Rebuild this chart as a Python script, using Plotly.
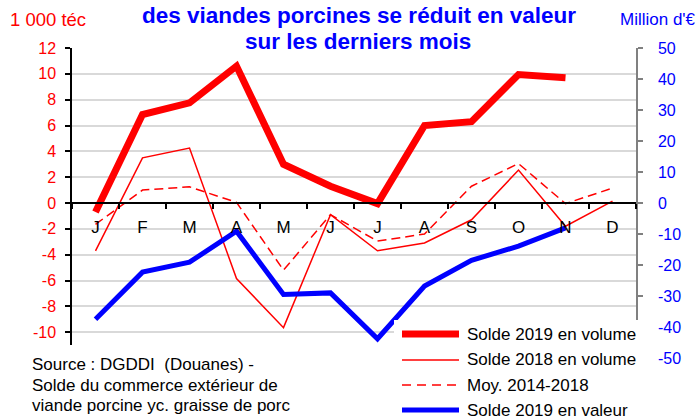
import plotly.graph_objects as go

# ---- data ----
months = ["Jan", "Fev", "Mar", "Avr", "Mai", "Juin", "Juil", "Aou", "Sep", "Oct", "Nov", "Dec"]
month_labels = ["J", "F", "M", "A", "M", "J", "J", "A", "S", "O", "N", "D"]

vol_2019 = [-0.7, 6.85, 7.75, 10.6, 3.0, 1.3, -0.05, 6.0, 6.3, 9.95, 9.7, None]
vol_2018 = [-3.7, 3.5, 4.25, -5.85, -9.65, -0.9, -3.7, -3.1, -1.3, 2.55, -1.8, 0.15]
moy_2014_2018 = [-1.65, 1.0, 1.25, 0.05, -5.2, -0.9, -2.95, -2.4, 1.3, 3.05, -0.05, 1.15]
val_2019 = [-37.5, -22.3, -19.1, -9.1, -29.5, -29.0, -43.8, -26.8, -18.5, -13.9, -8.0, None]

left_ticks = [-12, -10, -8, -6, -4, -2, 0, 2, 4, 6, 8, 10, 12]
left_tick_text = ["", "-10", "-8", "-6", "-4", "-2", "0", "2", "4", "6", "8", "10", "12"]
right_ticks = [-50, -40, -30, -20, -10, 0, 10, 20, 30, 40, 50]

series_names = ["Solde 2019 en volume", "Solde 2018 en volume",
                "Moy. 2014-2018", "Solde 2019 en valeur"]

# ---- geometry helpers (pixels -> paper) ----
W, H = 700, 419
PL, PR, PT, PB = 72, 636, 48, 358


def px(x):
    return (x - PL) / (PR - PL)


def py(y):
    return (PB - y) / (PB - PT)


RED = "#FF0000"
BLUE = "#0000FF"
FONT = "Liberation Sans, Arial, sans-serif"

fig = go.Figure()
fig.add_trace(go.Scatter(x=months, y=vol_2019, mode="lines", name=series_names[0],
                         line=dict(color=RED, width=7), showlegend=False))
fig.add_trace(go.Scatter(x=months, y=vol_2018, mode="lines", name=series_names[1],
                         line=dict(color=RED, width=1.5), showlegend=False))
fig.add_trace(go.Scatter(x=months, y=moy_2014_2018, mode="lines", name=series_names[2],
                         line=dict(color=RED, width=1.5, dash="9px,5px"), showlegend=False))
fig.add_trace(go.Scatter(x=months, y=val_2019, mode="lines", name=series_names[3],
                         line=dict(color=BLUE, width=5), yaxis="y2", showlegend=False))

shapes = [
    # white box behind the source text
    dict(type="rect", xref="paper", yref="paper", x0=px(0), x1=px(347), y0=py(345), y1=py(419),
         fillcolor="white", line=dict(width=0), layer="above"),
    # white legend box
    dict(type="rect", xref="paper", yref="paper", x0=px(394), x1=px(645), y0=py(320), y1=py(419),
         fillcolor="white", line=dict(width=0), layer="above"),
]

legend_rows = [334, 360, 385, 410]
legend_styles = [dict(color=RED, width=7), dict(color=RED, width=1.5),
                 dict(color=RED, width=1.5, dash="9px,6px"), dict(color=BLUE, width=5)]
annotations = []
for name, yy, st in zip(series_names, legend_rows, legend_styles):
    shapes.append(dict(type="line", xref="paper", yref="paper", x0=px(402), x1=px(459),
                       y0=py(yy), y1=py(yy), line=st, layer="above"))
    annotations.append(dict(text=name, xref="paper", yref="paper", x=px(465), y=py(yy),
                            xanchor="left", yanchor="middle", showarrow=False,
                            font=dict(size=17, color="black", family=FONT)))

# titles
annotations.append(dict(text="<b>des viandes porcines se réduit en valeur</b>", xref="paper", yref="paper",
                        x=px(359), y=py(16), xanchor="center", yanchor="middle", showarrow=False,
                        font=dict(size=22.5, color=BLUE, family=FONT)))
annotations.append(dict(text="<b>sur les derniers mois</b>", xref="paper", yref="paper",
                        x=px(358), y=py(41), xanchor="center", yanchor="middle", showarrow=False,
                        font=dict(size=22.5, color=BLUE, family=FONT)))
annotations.append(dict(text="1 000 téc", xref="paper", yref="paper",
                        x=px(8), y=py(20), xanchor="left", yanchor="middle", showarrow=False,
                        font=dict(size=18.5, color=RED, family=FONT)))
annotations.append(dict(text="Million d'€", xref="paper", yref="paper",
                        x=px(698), y=py(20), xanchor="right", yanchor="middle", showarrow=False,
                        font=dict(size=17, color=BLUE, family=FONT)))
source_lines = ["Source : DGDDI  (Douanes) -", "Solde du commerce extérieur de",
                "viande porcine yc. graisse de porc"]
for txt, yy in zip(source_lines, [364, 385, 405]):
    annotations.append(dict(text=txt, xref="paper", yref="paper", x=px(30), y=py(yy),
                            xanchor="left", yanchor="middle", showarrow=False,
                            font=dict(size=17, color="black", family=FONT)))

fig.update_layout(
    width=W, height=H,
    margin=dict(l=PL, r=W - PR, t=PT, b=H - PB, pad=0),
    paper_bgcolor="white", plot_bgcolor="white",
    font=dict(family=FONT),
    showlegend=False,
    xaxis=dict(type="category", categoryorder="array", categoryarray=months,
               tickmode="array", tickvals=months, ticktext=month_labels,
               range=[-0.5, 11.5], anchor="free", position=0.5,
               showline=True, linecolor="black", linewidth=1.5,
               ticks="outside", ticklen=5, tickcolor="black", tickwidth=1.5,
               tickson="boundaries", showgrid=False, zeroline=False,
               tickfont=dict(size=17, color="black", family=FONT),
               ticklabelstandoff=9),
    yaxis=dict(range=[-12, 12], tickmode="array", tickvals=left_ticks,
               ticktext=left_tick_text,
               showgrid=True, gridcolor="#D9D9D9", gridwidth=1.5, zeroline=False,
               showline=True, linecolor="black", linewidth=1.5,
               ticks="outside", ticklen=5, tickcolor="black", tickwidth=1.5,
               tickfont=dict(size=16, color=RED, family=FONT), ticklabelstandoff=6),
    yaxis2=dict(range=[-50, 50], overlaying="y", side="right", anchor="x",
                tickmode="array", tickvals=right_ticks,
                ticktext=[str(v) for v in right_ticks],
                showgrid=False, zeroline=False,
                showline=True, linecolor="#808080", linewidth=1.5,
                ticks="outside", ticklen=5, tickcolor="#808080", tickwidth=1.5,
                tickfont=dict(size=16, color=BLUE, family=FONT), ticklabelstandoff=12),
    shapes=shapes,
    annotations=annotations,
)

fig.write_html("out.html", config={"displayModeBar": False},
               post_script="document.body.style.margin='0px';document.body.style.padding='0px';")
